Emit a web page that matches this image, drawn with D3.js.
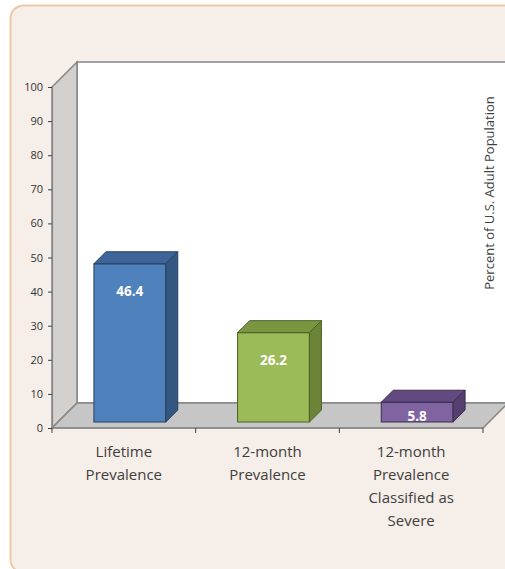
<!DOCTYPE html>
<html>
<head>
<meta charset="utf-8">
<script src="https://cdn.jsdelivr.net/npm/d3@7"></script>
<style>
  html, body { margin: 0; padding: 0; background: #ffffff; }
  svg { display: block; }
</style>
</head>
<body>
<svg id="chart" width="505" height="569"></svg>
<script>
// Prevalence figures (percent of U.S. adults)
const categories = ["Lifetime Prevalence", "12-month Prevalence", "12-month Prevalence Classified as Severe"];
const categoryLines = [["Lifetime", "Prevalence"], ["12-month", "Prevalence"], ["12-month", "Prevalence", "Classified as", "Severe"]];
const values = [46.4, 26.2, 5.8];
const yTicks = [0, 10, 20, 30, 40, 50, 60, 70, 80, 90, 100];
const yTitle = "Percent of U.S. Adult Population";

const frontColors = ["#4F81BD", "#9BBB59", "#8064A2"];
const topColors = ["#3D659A", "#7A9640", "#62497F"];
const sideColors = ["#345782", "#6B8437", "#54406F"];
const strokeColors = ["#263F5E", "#4C5F26", "#3C2D52"];

const svg = d3.select("#chart");

// Panel background
svg.append("rect")
  .attr("x", 10.5).attr("y", 5.5)
  .attr("width", 530).attr("height", 567)
  .attr("rx", 13).attr("ry", 13)
  .attr("fill", "#F6EEE8")
  .attr("stroke", "#F0C8A6")
  .attr("stroke-width", 2);

// 3D plot geometry
const depth = 25;          // wall/floor depth offset
const barDepth = 12;       // column depth
const barShift = 6;        // column front face sits this far behind the floor front edge

const x = d3.scaleBand().domain(categories).range([52, 483]).paddingInner(0).paddingOuter(0);
const y = d3.scaleLinear().domain([0, 100]).range([428, 87]);

const x0 = x.range()[0], x1 = x.range()[1];
const yBase = y(0), yTop = y(100);

const g = svg.append("g");

// Back wall
g.append("rect")
  .attr("x", x0 + depth).attr("y", yTop - depth)
  .attr("width", 560).attr("height", yBase - yTop)
  .attr("fill", "#FFFFFF")
  .attr("stroke", "#858585").attr("stroke-width", 1.5);

// Side wall
g.append("path")
  .attr("d", `M${x0},${yTop} L${x0 + depth},${yTop - depth} L${x0 + depth},${yBase - depth} L${x0},${yBase} Z`)
  .attr("fill", "#D3D0CD")
  .attr("stroke", "#858585").attr("stroke-width", 1.5);

// Floor
g.append("path")
  .attr("d", `M${x0},${yBase} L${x0 + depth},${yBase - depth} L${x1 + depth},${yBase - depth} L${x1},${yBase} Z`)
  .attr("fill", "#C6C6C6")
  .attr("stroke", "#858585").attr("stroke-width", 1.5);

// Y axis
const yAxis = d3.axisLeft(y).tickValues(yTicks).tickSize(4).tickPadding(5);
const ya = svg.append("g").attr("transform", `translate(${x0},0)`).call(yAxis);
ya.select(".domain").attr("stroke", "#868686").attr("stroke-width", 1.2);
ya.selectAll(".tick line").attr("stroke", "#404040");
ya.selectAll(".tick text")
  .attr("fill", "#333333")
  .style("font-family", "'Open Sans', sans-serif")
  .style("font-size", "11px");

// X axis (category ticks at band boundaries)
const xa = svg.append("g");
xa.append("line")
  .attr("x1", x0).attr("x2", x1).attr("y1", yBase).attr("y2", yBase)
  .attr("stroke", "#868686").attr("stroke-width", 1.2);
const bounds = categories.map(c => x(c)).concat([x1]);
xa.selectAll("line.tk").data(bounds).enter().append("line")
  .attr("class", "tk")
  .attr("x1", d => d).attr("x2", d => d)
  .attr("y1", yBase).attr("y2", yBase + 5)
  .attr("stroke", "#404040").attr("stroke-width", 1);

// Columns
const bw = x.bandwidth() * 0.5;
const bars = g.selectAll("g.bar").data(values).enter().append("g").attr("class", "bar");
bars.each(function (v, i) {
  const gx = x(categories[i]) + x.bandwidth() / 2 - bw / 2 + barShift;
  const yb = yBase - barShift;
  const yt = y(v) - barShift;
  const sel = d3.select(this);
  // front face
  sel.append("rect")
    .attr("x", gx).attr("y", yt)
    .attr("width", bw).attr("height", yb - yt)
    .attr("fill", frontColors[i]).attr("stroke", strokeColors[i]).attr("stroke-width", 1);
  // top face
  sel.append("path")
    .attr("d", `M${gx},${yt} L${gx + barDepth},${yt - barDepth} L${gx + bw + barDepth},${yt - barDepth} L${gx + bw},${yt} Z`)
    .attr("fill", topColors[i]).attr("stroke", strokeColors[i]).attr("stroke-width", 1);
  // side face
  sel.append("path")
    .attr("d", `M${gx + bw},${yt} L${gx + bw + barDepth},${yt - barDepth} L${gx + bw + barDepth},${yb - barDepth} L${gx + bw},${yb} Z`)
    .attr("fill", sideColors[i]).attr("stroke", strokeColors[i]).attr("stroke-width", 1);
  // value label
  const ly = Math.min(yt + 27, yb - 6);
  sel.append("text")
    .attr("x", gx + bw / 2).attr("y", ly)
    .attr("text-anchor", "middle").attr("dominant-baseline", "central")
    .attr("fill", "#FFFFFF")
    .style("font-family", "'Open Sans', sans-serif")
    .style("font-weight", "bold")
    .style("font-size", "13.5px")
    .text(d3.format(".1f")(v));
});

// Category labels
const cl = svg.append("g");
categoryLines.forEach((lines, i) => {
  const cx = x(categories[i]) + x.bandwidth() / 2;
  const t = cl.append("text")
    .attr("x", cx).attr("y", 457)
    .attr("text-anchor", "middle")
    .attr("fill", "#404040")
    .style("font-family", "'Open Sans', sans-serif")
    .style("font-size", "15px");
  lines.forEach((ln, j) => {
    t.append("tspan").attr("x", cx).attr("dy", j === 0 ? 0 : 23).text(ln);
  });
});

// Rotated axis title
svg.append("text")
  .attr("transform", `translate(494,193) rotate(-90)`)
  .attr("text-anchor", "middle")
  .attr("fill", "#404040")
  .style("font-family", "'Open Sans', sans-serif")
  .style("font-size", "13px")
  .text(yTitle);
</script>
</body>
</html>
